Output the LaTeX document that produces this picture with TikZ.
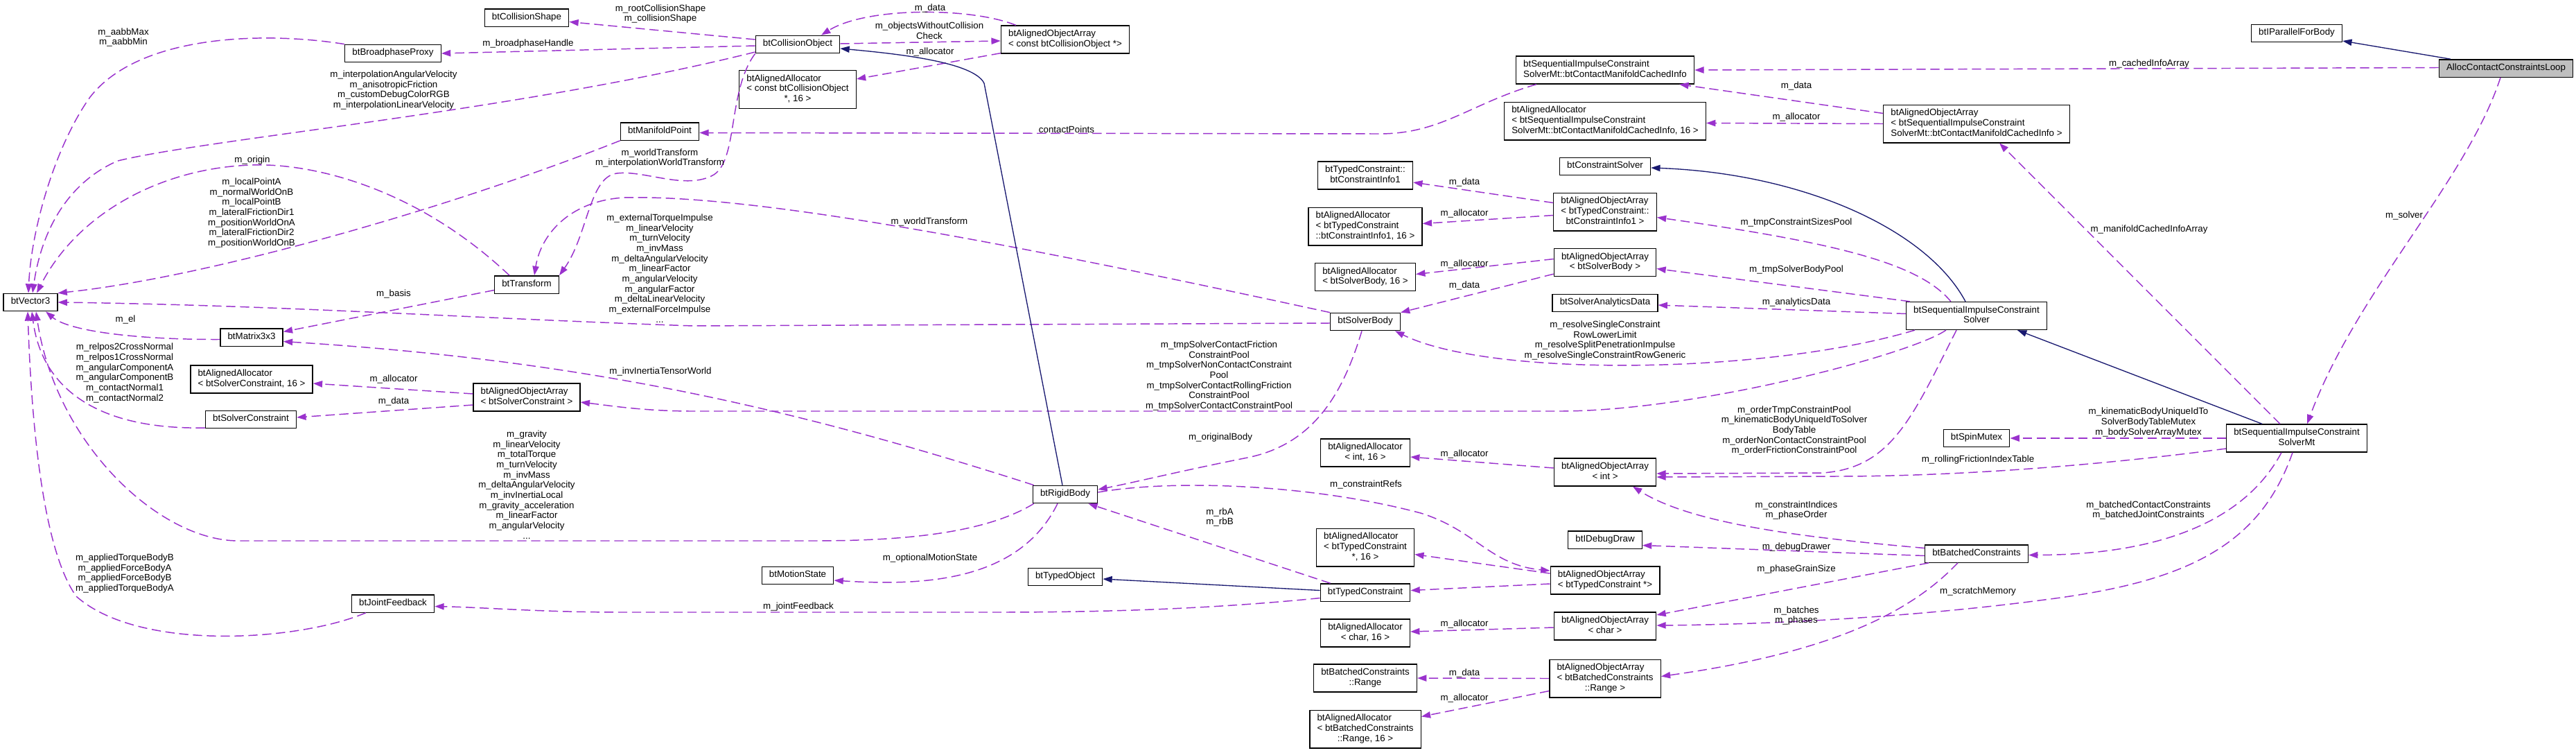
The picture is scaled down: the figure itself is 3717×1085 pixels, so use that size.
\documentclass[tikz,border=0pt]{standalone}
\usepackage{fontspec}
\setmainfont{Liberation Sans}
\usetikzlibrary{arrows.meta,calc}
\definecolor{usecol}{HTML}{9A32CD}
\definecolor{inhcol}{HTML}{191970}
\newcommand{\twoln}[2]{\begin{tabular}{@{}l@{}}#1\\\multicolumn{1}{@{}c@{}}{#2}\end{tabular}}
\newcommand{\threeln}[3]{\begin{tabular}{@{}l@{}}#1\\#2\\\multicolumn{1}{@{}c@{}}{#3}\end{tabular}}
\tikzset{
  px/.style={x=0.75pt, y=-0.75pt, font=\fontsize{10}{11}\selectfont},
  k cls/.style={draw=black, line width=1pt, fill=white, minimum height=19pt, inner xsep=8pt, inner ysep=4pt, execute at begin node=\strut},
  k root/.style={k cls, fill=black!25},
  k lbl/.style={align=center, inner sep=0pt},
  k use/.style={draw=usecol, line width=1.1pt, dash pattern=on 10pt off 5pt, -{Triangle[length=10pt,width=7pt]}},
  k inh/.style={draw=inhcol, line width=1pt, -{Triangle[length=10pt,width=7pt]}},
}

\begin{document}
\begin{tikzpicture}[px]
\useasboundingbox (0,0) rectangle (3717,1085);
% classes
\node[k cls] (vec3) at (44,436) {btVector3};
\node[k cls] (mat3) at (363,486.5) {btMatrix3x3};
\node[k cls] (allocsc) at (363,547) {\twoln{btAlignedAllocator}{< btSolverConstraint, 16 >}};
\node[k cls] (solvc) at (362,605) {btSolverConstraint};
\node[k cls] (bproxy) at (567,77) {btBroadphaseProxy};
\node[k cls] (jfb) at (567,870.5) {btJointFeedback};
\node[k cls] (cshape) at (760,25.5) {btCollisionShape};
\node[k cls] (xform) at (760,410.5) {btTransform};
\node[k cls] (arrsc) at (760,573) {\twoln{btAlignedObjectArray}{< btSolverConstraint >}};
\node[k cls] (mpoint) at (952,189.5) {btManifoldPoint};
\node[k cls] (cobj) at (1151,64) {btCollisionObject};
\node[k cls] (alloccobj) at (1151,129) {\threeln{btAlignedAllocator}{< const btCollisionObject}{*, 16 >}};
\node[k cls] (mstate) at (1151,830) {btMotionState};
\node[k cls] (arrcobj) at (1537,57) {\twoln{btAlignedObjectArray}{< const btCollisionObject *>}};
\node[k cls] (rbody) at (1537,713) {btRigidBody};
\node[k cls] (tobj) at (1537,832) {btTypedObject};
\node[k cls] (info1) at (1970,253) {\twoln{btTypedConstraint::}{btConstraintInfo1}};
\node[k cls] (allocinfo1) at (1970,326.5) {\threeln{btAlignedAllocator}{< btTypedConstraint}{::btConstraintInfo1, 16 >}};
\node[k cls] (allocsb) at (1970,399.5) {\twoln{btAlignedAllocator}{< btSolverBody, 16 >}};
\node[k cls] (sbody) at (1970,464) {btSolverBody};
\node[k cls] (allocint) at (1970,653) {\twoln{btAlignedAllocator}{< int, 16 >}};
\node[k cls] (alloctc) at (1970,789.5) {\threeln{btAlignedAllocator}{< btTypedConstraint}{*, 16 >}};
\node[k cls] (tcons) at (1970,854.5) {btTypedConstraint};
\node[k cls] (allocchar) at (1970,913) {\twoln{btAlignedAllocator}{< char, 16 >}};
\node[k cls] (range) at (1970,978) {\twoln{btBatchedConstraints}{::Range}};
\node[k cls] (allocrange) at (1970,1051.5) {\threeln{btAlignedAllocator}{< btBatchedConstraints}{::Range, 16 >}};
\node[k cls] (cinfo) at (2316,101) {\twoln{btSequentialImpulseConstraint}{SolverMt::btContactManifoldCachedInfo}};
\node[k cls] (alloccinfo) at (2316,174.5) {\threeln{btAlignedAllocator}{< btSequentialImpulseConstraint}{SolverMt::btContactManifoldCachedInfo, 16 >}};
\node[k cls] (csolver) at (2316,240) {btConstraintSolver};
\node[k cls] (arrinfo1) at (2316,305.5) {\threeln{btAlignedObjectArray}{< btTypedConstraint::}{btConstraintInfo1 >}};
\node[k cls] (arrsb) at (2316,378.5) {\twoln{btAlignedObjectArray}{< btSolverBody >}};
\node[k cls] (analytics) at (2316,437) {btSolverAnalyticsData};
\node[k cls] (arrint) at (2316,681) {\twoln{btAlignedObjectArray}{< int >}};
\node[k cls] (ddraw) at (2316,778.5) {btIDebugDraw};
\node[k cls] (arrtc) at (2316,837) {\twoln{btAlignedObjectArray}{< btTypedConstraint *>}};
\node[k cls] (arrchar) at (2316,903) {\twoln{btAlignedObjectArray}{< char >}};
\node[k cls] (arrrange) at (2316,978.5) {\threeln{btAlignedObjectArray}{< btBatchedConstraints}{::Range >}};
\node[k cls] (arrcinfo) at (2852,178.5) {\threeln{btAlignedObjectArray}{< btSequentialImpulseConstraint}{SolverMt::btContactManifoldCachedInfo >}};
\node[k cls] (sis) at (2852,455.5) {\twoln{btSequentialImpulseConstraint}{Solver}};
\node[k cls] (spin) at (2852,632) {btSpinMutex};
\node[k cls] (batched) at (2852,798.5) {btBatchedConstraints};
\node[k cls] (pfb) at (3314,48) {btIParallelForBody};
\node[k cls] (sismt) at (3314,632) {\twoln{btSequentialImpulseConstraint}{SolverMt}};
\node[k root] (loop) at (3616,98.5) {AllocContactConstraintsLoop};
% members
\draw[k use] ($(cobj.west)+(0,-7)$) -- ($(cshape.east)+(0,6)$);
\draw[k use] ($(cobj.west)+(0,2)$) -- (bproxy.east);
\draw[k use] ($(cobj.west)+(0,11)$) .. controls (750,160) and (300,200) .. (170,232) .. controls (100,262) and (60,330) .. ($(vec3.north)+(3,0)$);
\draw[k use] (bproxy.north west) .. controls (380,45) and (200,50) .. (130,140) .. controls (80,210) and (45,330) .. ($(vec3.north)+(-3,0)$);
\draw[k use] ($(xform.north)+(-25,0)$) .. controls (600,270) and (450,235) .. (364,238) .. controls (230,242) and (110,310) .. ($(vec3.north)+(9,0)$);
\draw[k use] (mpoint.south west) .. controls (650,300) and (300,400) .. (vec3.north east);
\draw[k use] ($(xform.west)+(0,8)$) -- ($(mat3.east)+(0,-8)$);
\draw[k use] ($(mat3.west)+(0,3)$) .. controls (200,490) and (100,478) .. ($(vec3.south)+(22,0)$);
\draw[k use] ($(solvc.west)+(0,12)$) .. controls (140,620) and (60,560) .. ($(vec3.south)+(2,0)$);
\draw[k use] ($(rbody.south west)+(2,0)$) .. controls (1420,770) and (1300,780) .. (1173,780) -- (344,780) .. controls (230,780) and (80,640) .. ($(vec3.south)+(8,0)$);
\draw[k use] ($(jfb.south west)+(21,0)$) .. controls (430,925) and (200,940) .. (110,860) .. controls (60,790) and (45,600) .. ($(vec3.south)+(-4,0)$);
\draw[k use] ($(sbody.west)+(0,2)$) -- (1000,470) .. controls (700,460) and (400,440) .. (vec3.east);
\draw[k use] (sbody.north west) .. controls (1500,360) and (1100,280) .. (900,285) .. controls (820,290) and (780,340) .. ($(xform.north)+(11,0)$);
\draw[k use] (cobj.south west) .. controls (1050,130) and (1065,230) .. (1030,252) .. controls (990,275) and (930,245) .. (890,250) .. controls (850,255) and (848,340) .. (xform.north east);
\draw[k use] ($(cinfo.south west)+(30,0)$) .. controls (2120,150) and (2080,193) .. (1990,193) -- ($(mpoint.east)+(0,2)$);
\draw[k use] ($(arrcobj.north west)+(22,0)$) .. controls (1400,10) and (1250,10) .. ($(cobj.north)+(34,0)$);
\draw[k use] ($(cobj.east)+(0,-1)$) -- ($(arrcobj.west)+(0,2)$);
\draw[k use] ($(arrcobj.south west)+(0,-1)$) -- ($(alloccobj.east)+(0,-15)$);
\draw[k use] ($(arrsc.west)+(0,-5)$) -- ($(allocsc.east)+(0,6)$);
\draw[k use] ($(arrsc.west)+(0,11)$) -- ($(solvc.east)+(0,-3)$);
\draw[k use] ($(rbody.north west)+(2,0)$) .. controls (1150,590) and (850,520) .. ($(mat3.east)+(0,6)$);
\draw[k use] ($(sbody.south)+(-5,0)$) .. controls (1940,560) and (1900,640) .. (1800,660) .. controls (1700,680) and (1640,695) .. ($(rbody.east)+(0,-7)$);
\draw[k use] ($(sis.south west)+(58,0)$) .. controls (2760,510) and (2450,593) .. (2250,593) -- (1000,593) .. controls (930,593) and (880,585) .. ($(arrsc.east)+(0,7)$);
\draw[k use] ($(sis.north west)+(65,0)$) .. controls (2770,380) and (2650,350) .. ($(arrinfo1.east)+(0,8)$);
\draw[k use] ($(arrinfo1.west)+(0,-13)$) -- ($(info1.east)+(0,10)$);
\draw[k use] ($(arrinfo1.west)+(0,5)$) -- ($(allocinfo1.east)+(0,-4)$);
\draw[k use] ($(sis.north west)+(6,0)$) -- ($(arrsb.east)+(0,9)$);
\draw[k use] ($(arrsb.west)+(0,-5)$) -- ($(allocsb.east)+(0,-4)$);
\draw[k use] ($(arrsb.south west)+(0,-4)$) -- (sbody.north east);
\draw[k use] ($(sis.west)+(0,-3)$) -- ($(analytics.east)+(0,3)$);
\draw[k use] ($(sis.south west)+(13,0)$) .. controls (2550,540) and (2150,545) .. ($(sbody.south east)+(-8,0)$);
\draw[k use] ($(sis.south)+(-29,0)$) .. controls (2760,600) and (2730,675) .. (2630,682) -- ($(arrint.east)+(0,2)$);
\draw[k use] ($(arrint.west)+(0,-6)$) -- ($(allocint.east)+(0,6)$);
\draw[k use] ($(sismt.west)+(0,15)$) .. controls (3000,675) and (2800,687) .. (2650,687) -- ($(arrint.east)+(0,7)$);
\draw[k use] ($(batched.west)+(0,-8)$) .. controls (2600,775) and (2440,755) .. ($(arrint.south)+(40,0)$);
\draw[k use] ($(batched.west)+(0,3)$) -- ($(ddraw.east)+(0,8)$);
\draw[k use] ($(batched.south west)+(6,0)$) -- ($(arrchar.east)+(0,-16)$);
\draw[k use] ($(sismt.south)+(-6,0)$) .. controls (3260,790) and (3150,840) .. (2950,865) .. controls (2800,885) and (2600,900) .. ($(arrchar.east)+(0,-1)$);
\draw[k use] ($(batched.south west)+(48,0)$) .. controls (2760,880) and (2650,940) .. ($(arrrange.east)+(0,-3)$);
\draw[k use] ($(arrchar.west)+(0,2)$) -- ($(allocchar.east)+(0,-2)$);
\draw[k use] (arrrange.west) -- (range.east);
\draw[k use] ($(arrrange.west)+(0,18)$) -- ($(allocrange.east)+(0,-18)$);
\draw[k use] ($(sismt.south)+(-22,0)$) .. controls (3240,750) and (3120,800) .. ($(batched.east)+(0,2)$);
\draw[k use] (sismt.west) -- (spin.east);
\draw[k use] ($(sismt.north)+(-24,0)$) -- ($(arrcinfo.south)+(33,0)$);
\draw[k use] ($(loop.south)+(-8,0)$) .. controls (3560,260) and (3400,420) .. ($(sismt.north)+(15,0)$);
\draw[k use] ($(loop.west)+(0,-1)$) -- (cinfo.east);
\draw[k use] ($(arrcinfo.west)+(0,-15)$) -- ($(cinfo.south east)+(-22,0)$);
\draw[k use] (arrcinfo.west) -- ($(alloccinfo.east)+(0,3)$);
\draw[k use] ($(tcons.north west)+(15,0)$) -- ($(rbody.south east)+(-14,0)$);
\draw[k use] ($(tcons.west)+(0,8)$) .. controls (1750,878) and (1600,883) .. (1434,883) -- (900,883) .. controls (780,883) and (700,876) .. ($(jfb.east)+(0,4)$);
\draw[k use] ($(rbody.south)+(-11,0)$) .. controls (1470,840) and (1330,845) .. ($(mstate.east)+(0,7)$);
\draw[k use] ($(rbody.east)+(0,-3)$) .. controls (1700,690) and (1900,700) .. (2050,740) .. controls (2130,765) and (2150,815) .. ($(arrtc.west)+(0,-14)$);
\draw[k use] ($(arrtc.west)+(0,5)$) -- ($(tcons.east)+(0,-3)$);
\draw[k use] ($(arrtc.west)+(0,-10)$) -- ($(alloctc.east)+(0,10)$);
% inheritance
\draw[k inh] ($(rbody.north)+(-4,0)$) -- (1420,120) .. controls (1405,90) and (1300,78) .. ($(cobj.east)+(0,6)$);
\draw[k inh] ($(tcons.west)+(0,-3)$) -- ($(tobj.east)+(0,3)$);
\draw[k inh] ($(sis.north)+(-16,0)$) .. controls (2780,330) and (2600,250) .. ($(csolver.east)+(0,2)$);
\draw[k inh] ($(sismt.north)+(-50,0)$) -- ($(sis.south)+(59,0)$);
\draw[k inh] ($(loop.north west)+(17,0)$) -- ($(pfb.east)+(0,11)$);
% labels
\node[k lbl] (lshape) at (953,20) {m\_rootCollisionShape\\m\_collisionShape};
\node[k lbl] (lbroad) at (762,63) {m\_broadphaseHandle};
\node[k lbl] (linterp) at (568,130) {m\_interpolationAngularVelocity\\m\_anisotropicFriction\\m\_customDebugColorRGB\\m\_interpolationLinearVelocity};
\node[k lbl] (laabb) at (178,54) {m\_aabbMax\\m\_aabbMin};
\node[k lbl] (lorigin) at (364,231) {m\_origin};
\node[k lbl] (lpoint) at (363,307) {m\_localPointA\\m\_normalWorldOnB\\m\_localPointB\\m\_lateralFrictionDir1\\m\_positionWorldOnA\\m\_lateralFrictionDir2\\m\_positionWorldOnB};
\node[k lbl] (lbasis) at (568,424) {m\_basis};
\node[k lbl] (lel) at (181,461) {m\_el};
\node[k lbl] (lrelpos) at (180,538) {m\_relpos2CrossNormal\\m\_relpos1CrossNormal\\m\_angularComponentA\\m\_angularComponentB\\m\_contactNormal1\\m\_contactNormal2};
\node[k lbl] (lgrav) at (760,699) {m\_gravity\\m\_linearVelocity\\m\_totalTorque\\m\_turnVelocity\\m\_invMass\\m\_deltaAngularVelocity\\m\_invInertiaLocal\\m\_gravity\_acceleration\\m\_linearFactor\\m\_angularVelocity\\...};
\node[k lbl] (lapplied) at (180,827) {m\_appliedTorqueBodyB\\m\_appliedForceBodyA\\m\_appliedForceBodyB\\m\_appliedTorqueBodyA};
\node[k lbl] (lext) at (952,387) {m\_externalTorqueImpulse\\m\_linearVelocity\\m\_turnVelocity\\m\_invMass\\m\_deltaAngularVelocity\\m\_linearFactor\\m\_angularVelocity\\m\_angularFactor\\m\_deltaLinearVelocity\\m\_externalForceImpulse\\...};
\node[k lbl] (lwt) at (1341,320) {m\_worldTransform};
\node[k lbl] (lwti) at (952,228) {m\_worldTransform\\m\_interpolationWorldTransform};
\node[k lbl] (lcontact) at (1539,187) {contactPoints};
\node[k lbl] (ldcobj) at (1342,12) {m\_data};
\node[k lbl] (lwithout) at (1341,44.5) {m\_objectsWithoutCollision\\Check};
\node[k lbl] (lacobj) at (1342,75) {m\_allocator};
\node[k lbl] (lasc) at (568,547) {m\_allocator};
\node[k lbl] (ldsc) at (568,579) {m\_data};
\node[k lbl] (linvin) at (953,536) {m\_invInertiaTensorWorld};
\node[k lbl] (lorig) at (1761,631) {m\_originalBody};
\node[k lbl] (ltmpsc) at (1759,542) {m\_tmpSolverContactFriction\\ConstraintPool\\m\_tmpSolverNonContactConstraint\\Pool\\m\_tmpSolverContactRollingFriction\\ConstraintPool\\m\_tmpSolverContactConstraintPool};
\node[k lbl] (lsizes) at (2592,321) {m\_tmpConstraintSizesPool};
\node[k lbl] (ldinfo) at (2113,263) {m\_data};
\node[k lbl] (lainfo) at (2113,308) {m\_allocator};
\node[k lbl] (lsbpool) at (2592,389) {m\_tmpSolverBodyPool};
\node[k lbl] (lasb) at (2113,381) {m\_allocator};
\node[k lbl] (ldsb) at (2113,412) {m\_data};
\node[k lbl] (lanalytics) at (2592,436) {m\_analyticsData};
\node[k lbl] (lresolve) at (2316,491) {m\_resolveSingleConstraint\\RowLowerLimit\\m\_resolveSplitPenetrationImpulse\\m\_resolveSingleConstraintRowGeneric};
\node[k lbl] (lorder) at (2589,621) {m\_orderTmpConstraintPool\\m\_kinematicBodyUniqueIdToSolver\\BodyTable\\m\_orderNonContactConstraintPool\\m\_orderFrictionConstraintPool};
\node[k lbl] (laint) at (2113,655) {m\_allocator};
\node[k lbl] (lrolling) at (2854,663) {m\_rollingFrictionIndexTable};
\node[k lbl] (lindices) at (2592,736) {m\_constraintIndices\\m\_phaseOrder};
\node[k lbl] (ldebug) at (2592,789) {m\_debugDrawer};
\node[k lbl] (lgrain) at (2592,821) {m\_phaseGrainSize};
\node[k lbl] (lscratch) at (2854,853) {m\_scratchMemory};
\node[k lbl] (lbatches) at (2592,888) {m\_batches\\m\_phases};
\node[k lbl] (lachar) at (2113,900) {m\_allocator};
\node[k lbl] (ldrange) at (2113,971) {m\_data};
\node[k lbl] (larange) at (2113,1007) {m\_allocator};
\node[k lbl] (lbatched) at (3100,736) {m\_batchedContactConstraints\\m\_batchedJointConstraints};
\node[k lbl] (lmutex) at (3100,609) {m\_kinematicBodyUniqueIdTo\\SolverBodyTableMutex\\m\_bodySolverArrayMutex};
\node[k lbl] (lmanifold) at (3101,331) {m\_manifoldCachedInfoArray};
\node[k lbl] (lsolver) at (3469,311) {m\_solver};
\node[k lbl] (lcached) at (3101,92) {m\_cachedInfoArray};
\node[k lbl] (ldcinfo) at (2592,124) {m\_data};
\node[k lbl] (lacinfo) at (2592,169) {m\_allocator};
\node[k lbl] (lrb) at (1760,746) {m\_rbA\\m\_rbB};
\node[k lbl] (ljoint) at (1152,875) {m\_jointFeedback};
\node[k lbl] (lmotion) at (1342,805) {m\_optionalMotionState};
\node[k lbl] (lrefs) at (1971,699) {m\_constraintRefs};
\end{tikzpicture}
\end{document}
